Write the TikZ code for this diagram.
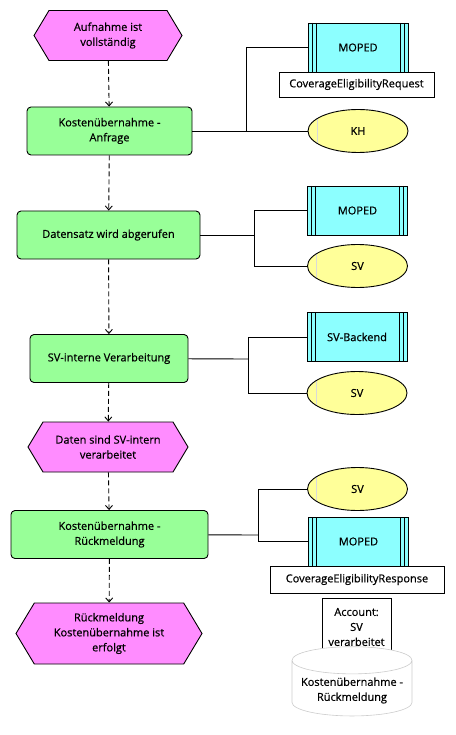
\documentclass[tikz,border=0pt]{standalone}
\usepackage{fontspec}
\setmainfont{Open Sans}[FakeBold=0.6]
\usetikzlibrary{shapes.geometric, shapes.symbols, arrows.meta, positioning}
\definecolor{evtpink}{RGB}{255,140,255}
\definecolor{fungreen}{RGB}{152,255,152}
\definecolor{syscyan}{RGB}{140,255,255}
\definecolor{orgyellow}{RGB}{255,255,153}
\tikzstyle{event} = [signal, signal to=west and east, signal pointer angle=118, minimum height=50, inner sep=0pt, text centered, align=center, draw=black, fill=evtpink]
\tikzstyle{func} = [rectangle, rounded corners=4, minimum height=48, text centered, align=center, draw=black, fill=fungreen]
\tikzstyle{system} = [rectangle, minimum width=100, minimum height=49, text centered, draw=black, fill=syscyan,
  path picture={\foreach \d in {4,8} {
    \draw ([xshift=\d pt]path picture bounding box.north west) -- ([xshift=\d pt]path picture bounding box.south west);
    \draw ([xshift=-\d pt]path picture bounding box.north east) -- ([xshift=-\d pt]path picture bounding box.south east);}}]
\tikzstyle{orgunit} = [ellipse, minimum width=100, minimum height=43, text centered, draw=black, fill=orgyellow,
  path picture={\draw[black!15, line width=0.6pt] ([xshift=9pt]path picture bounding box.north west) -- ([xshift=9pt]path picture bounding box.south west);}]
\tikzstyle{infobox} = [rectangle, text centered, align=center, draw=black, fill=white]
\tikzstyle{datastore} = [cylinder, shape border rotate=90, aspect=0.25, minimum width=120, minimum height=65, text centered, align=center, draw=black!20, line width=0.6pt, fill=white]
\tikzstyle{arrow} = [dash pattern=on 5pt off 3pt, -{Straight Barb[length=4pt, width=7pt]}]
\tikzstyle{orgline} = [black]

\begin{document}
\begin{tikzpicture}[x=1pt, y=-1pt, line width=0.9pt, font=\fontsize{11}{15}\selectfont]
\useasboundingbox (0,0) rectangle (455,735);

% process chain
\node (start) [event, minimum width=148] at (108,35.5) {Aufnahme ist\\vollständig};
\node (request) [func, minimum width=165] at (109.5,131) {Kostenübernahme -\\Anfrage};
\node (fetch) [func, minimum width=183] at (108.5,235) {Datensatz wird abgerufen};
\node (process) [func, minimum width=158] at (109,358.5) {SV-interne Verarbeitung};
\node (processed) [event, minimum width=160] at (108,447) {Daten sind SV-intern\\verarbeitet};
\node (response) [func, minimum width=197] at (109.5,534.5) {Kostenübernahme -\\Rückmeldung};
\node (done) [event, minimum width=186, minimum height=61] at (109,633.5) {Rückmeldung\\Kostenübernahme ist\\erfolgt};

% systems and units
\node (moped1) [system] at (358,47.5) {MOPED};
\node (reqmsg) [infobox, minimum width=155, minimum height=25] at (356.5,84.5) {CoverageEligibilityRequest};
\node (kh) [orgunit] at (358,131) {KH};
\node (moped2) [system] at (357.5,210.5) {MOPED};
\node (sv1) [orgunit] at (357.5,266) {SV};
\node (backend) [system] at (357,337) {SV-Backend};
\node (sv2) [orgunit] at (357,393) {SV};
\node (sv3) [orgunit] at (357.5,489) {SV};
\node (moped3) [system] at (358.5,541.5) {MOPED};
\node (respmsg) [infobox, minimum width=174, minimum height=27] at (357,579.5) {CoverageEligibilityResponse};
\node (account) [infobox, minimum width=69, minimum height=58, inner sep=1pt] at (356.5,627) {Account:\\SV\\verarbeitet};
\node (store) [datastore] at (352,690.5) {Kostenübernahme -\\Rückmeldung};

\coordinate (j1) at (246,131);
\coordinate (j2) at (254,235);
\coordinate (j3) at (248,359);
\coordinate (j4) at (258,535);

\draw [arrow] (start) -- (request);
\draw [arrow] (request) -- (fetch);
\draw [arrow] (fetch) -- (process);
\draw [arrow] (process) -- (processed);
\draw [arrow] (processed) -- (response);
\draw [arrow] (response) -- (done);

\draw [orgline] (request) -- (kh);
\draw [orgline] (j1) |- (moped1);
\draw [orgline] (fetch) -- (j2);
\draw [orgline] (j2) |- (moped2);
\draw [orgline] (j2) |- (sv1);
\draw [orgline] (process) -- (j3);
\draw [orgline] (j3) |- (backend);
\draw [orgline] (j3) |- (sv2);
\draw [orgline] (response) -- (j4);
\draw [orgline] (j4) |- (sv3);
\draw [orgline] (j4) |- (moped3);

\end{tikzpicture}
\end{document}
